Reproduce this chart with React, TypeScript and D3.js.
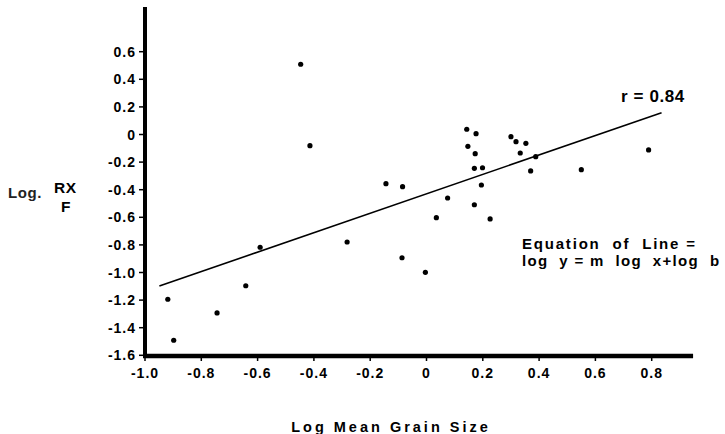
import React from "react";
import * as d3 from "d3";

const grainSize = [-0.447, -0.414, -0.144, -0.085, 0.143, 0.176, 0.147, 0.173, 0.17, 0.199, 0.195, 0.17, 0.075, 0.035, 0.226, 0.3, 0.318, 0.353, 0.333, 0.388, 0.37, 0.55, 0.789, -0.919, -0.898, -0.744, -0.642, -0.591, -0.282, -0.087, -0.004];
const logRxF = [0.509, -0.081, -0.356, -0.378, 0.038, 0.006, -0.086, -0.139, -0.245, -0.241, -0.366, -0.509, -0.46, -0.603, -0.612, -0.016, -0.052, -0.064, -0.134, -0.161, -0.264, -0.255, -0.112, -1.194, -1.491, -1.293, -1.096, -0.817, -0.779, -0.893, -0.999];
const xTicks = [-1.0, -0.8, -0.6, -0.4, -0.2, 0, 0.2, 0.4, 0.6, 0.8];
const xTickLabels = ["-1.0", "-0.8", "-0.6", "-0.4", "-0.2", "0", "0.2", "0.4", "0.6", "0.8"];
const yTicks = [0.6, 0.4, 0.2, 0, -0.2, -0.4, -0.6, -0.8, -1.0, -1.2, -1.4, -1.6];
const yTickLabels = ["0.6", "0.4", "0.2", "0", "-0.2", "-0.4", "-0.6", "-0.8", "-1.0", "-1.2", "-1.4", "-1.6"];
const fitSlope = 0.704;
const fitIntercept = -0.43;
const fitRange = [-0.949, 0.835];

export default function App() {
  const x = d3.scaleLinear().domain([-1, 0]).range([145, 426.5]);
  const y = d3.scaleLinear().domain([0, -1.6]).range([134.5, 355.3]);
  const font = "'Liberation Sans', Arial, Helvetica, sans-serif";
  const line = d3.line<number>().x((d) => x(d)).y((d) => y(fitSlope * d + fitIntercept));
  const pre = { whiteSpace: "pre" as const };
  return (
    <svg width={725} height={434} style={{ position: "absolute", left: 0, top: 0, background: "#fff" }}>
      <g fontFamily={font} fontWeight="bold" fill="#000">
        <line x1={x(-1)} x2={x(-1)} y1={7} y2={y(-1.6) + 2} stroke="#000" strokeWidth={4} />
        <line x1={x(-1) - 2} x2={x(0.947)} y1={356} y2={356} stroke="#000" strokeWidth={4.5} />
        {yTicks.map((t, i) => (
          <g key={"y" + i}>
            <line x1={x(-1) - 6} x2={x(-1)} y1={y(t)} y2={y(t)} stroke="#000" strokeWidth={1.5} />
            <text x={136} y={y(t)} dy="0.36em" textAnchor="end" fontSize={14} letterSpacing={1}>
              {yTickLabels[i]}
            </text>
          </g>
        ))}
        {xTicks.map((t, i) => (
          <g key={"x" + i}>
            <line x1={x(t)} x2={x(t)} y1={356} y2={361} stroke="#000" strokeWidth={1.5} />
            <text x={x(t)} y={377.5} textAnchor="middle" fontSize={14} letterSpacing={1}>
              {xTickLabels[i]}
            </text>
          </g>
        ))}
        <path d={line(fitRange) || ""} fill="none" stroke="#000" strokeWidth={1.6} />
        {grainSize.map((g, i) => (
          <circle key={"p" + i} cx={x(g)} cy={y(logRxF[i])} r={2.6} fill="#000" />
        ))}
        <text x={621} y={102} fontSize={17} letterSpacing={0.6} style={pre}>r = 0.84</text>
        <text x={522} y={249} fontSize={15} letterSpacing={1.8} style={pre}>Equation  of  Line =</text>
        <text x={522} y={266} fontSize={15} letterSpacing={1.3} style={pre}>log  y = m  log  x+log  b</text>
        <text x={391} y={432} textAnchor="middle" fontSize={14.5} letterSpacing={3} style={pre}>Log Mean Grain Size</text>
        <text x={8} y={198} fontSize={15} fill="#222" letterSpacing={0.6}>Log.</text>
        <text x={54} y={193} fontSize={15.5} letterSpacing={0.5}>RX</text>
        <text x={61} y={212} fontSize={15.5}>F</text>
      </g>
    </svg>
  );
}
